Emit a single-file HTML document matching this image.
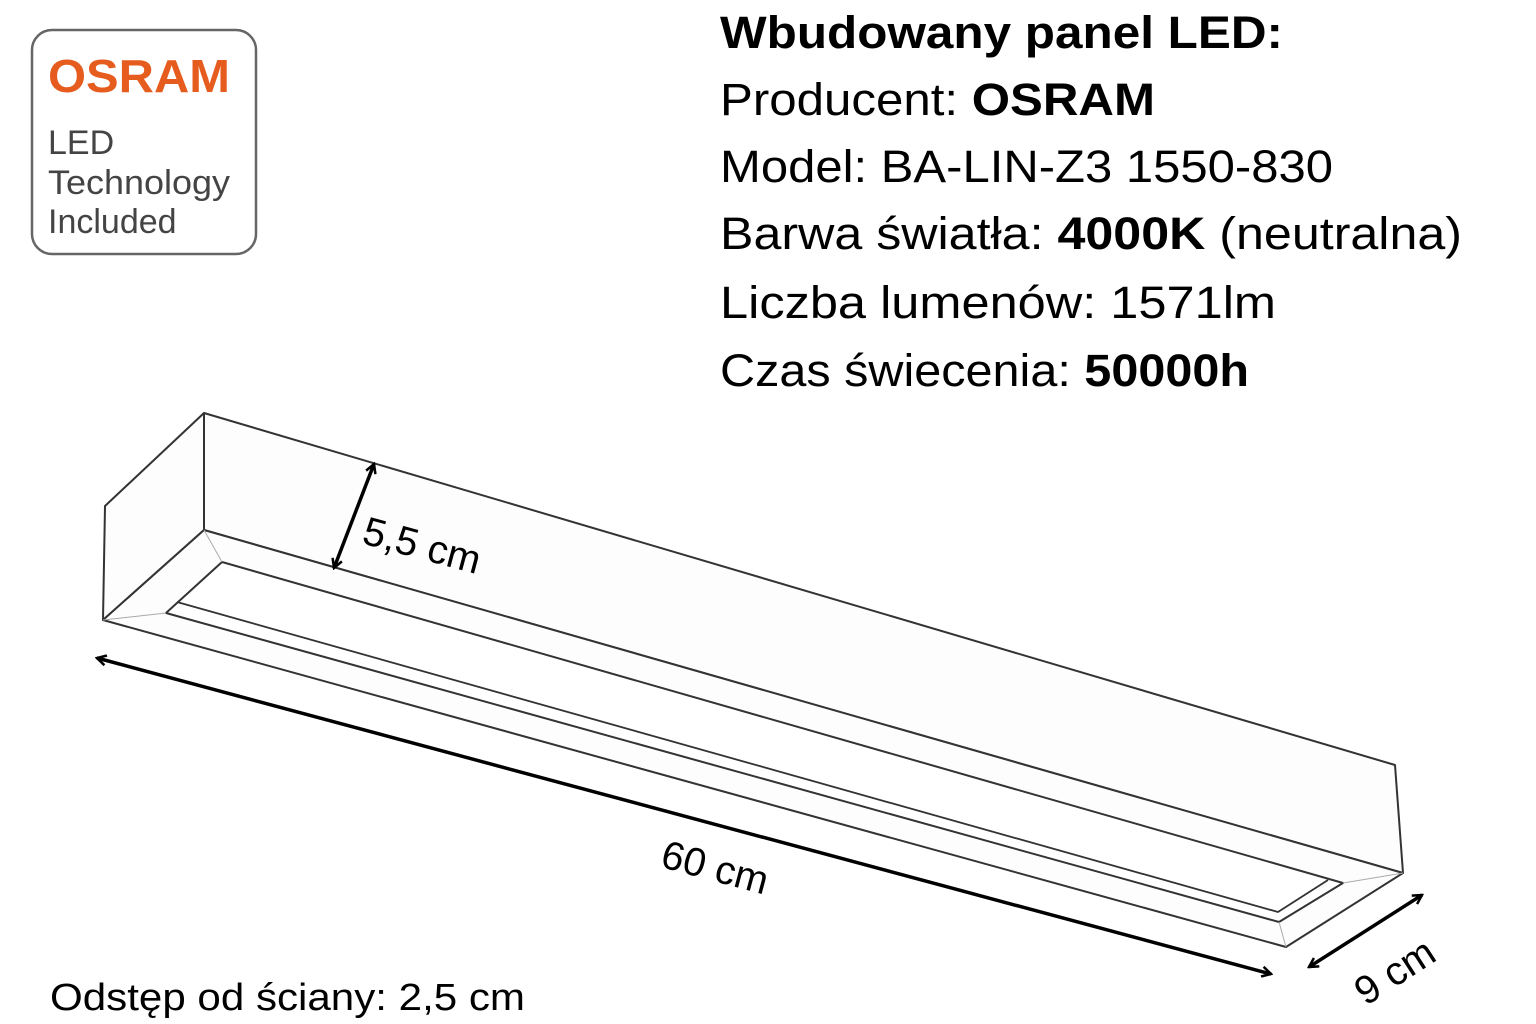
<!DOCTYPE html>
<html><head><meta charset="utf-8"><style>
html,body{margin:0;padding:0;background:#fff;}
svg{display:block}
text{font-family:"Liberation Sans",sans-serif;}
</style></head><body>
<svg width="1536" height="1024" viewBox="0 0 1536 1024" xmlns="http://www.w3.org/2000/svg">
<defs>
<marker id="ah" viewBox="0 0 12 12" refX="10" refY="6" markerWidth="12" markerHeight="12" markerUnits="userSpaceOnUse" orient="auto-start-reverse">
<path d="M1,1 L10,6 L1,11" fill="none" stroke="#000" stroke-width="2.5"/>
</marker>
</defs>
<rect x="32" y="30" width="224" height="224" rx="20" fill="#fff" stroke="#666" stroke-width="2.5"/>
<text x="48" y="92" font-size="46" font-weight="bold" fill="#e65c1e" textLength="182" lengthAdjust="spacingAndGlyphs">OSRAM</text>
<text x="48" y="154" font-size="34" fill="#444">LED</text>
<text x="48" y="194" font-size="34" fill="#444" textLength="182" lengthAdjust="spacingAndGlyphs">Technology</text>
<text x="48" y="233" font-size="34" fill="#444">Included</text>
<g font-size="45" fill="#000">
<text x="720" y="48" font-weight="bold" textLength="563" lengthAdjust="spacingAndGlyphs">Wbudowany panel LED:</text>
<text x="720" y="115" textLength="435" lengthAdjust="spacingAndGlyphs">Producent: <tspan font-weight="bold">OSRAM</tspan></text>
<text x="720" y="182" textLength="613" lengthAdjust="spacingAndGlyphs">Model: BA-LIN-Z3 1550-830</text>
<text x="720" y="249" textLength="742" lengthAdjust="spacingAndGlyphs">Barwa światła: <tspan font-weight="bold">4000K</tspan> (neutralna)</text>
<text x="720" y="318" textLength="556" lengthAdjust="spacingAndGlyphs">Liczba lumenów: 1571lm</text>
<text x="720" y="386" textLength="529" lengthAdjust="spacingAndGlyphs">Czas świecenia: <tspan font-weight="bold">50000h</tspan></text>
</g>
<g stroke="#333" stroke-width="2" fill="#fdfdfd" stroke-linejoin="round">
<polygon points="204,413 1395,765 1403,873 204,530"/>
<polygon points="105,506 204,413 204,530 103,620"/>
<polygon points="103,620 204,530 1403,873 1286,947"/>
<polygon points="222,562 1343,883 1279,922 166,613" fill="#fff"/>
<polyline points="177,602 1278,912 1328,880" fill="none" stroke-width="1.8"/>
<line x1="204" y1="530" x2="222" y2="562" stroke="#aaa" stroke-width="1"/>
<line x1="103" y1="620" x2="166" y2="613" stroke="#aaa" stroke-width="1"/>
<line x1="1403" y1="873" x2="1343" y2="883" stroke="#aaa" stroke-width="1"/>
<line x1="1286" y1="947" x2="1279" y2="922" stroke="#aaa" stroke-width="1"/>
</g>
<g stroke="#000" stroke-width="3.5" fill="none">
<line x1="97" y1="658" x2="1271" y2="974" marker-start="url(#ah)" marker-end="url(#ah)"/>
<line x1="374" y1="464" x2="334" y2="568" marker-start="url(#ah)" marker-end="url(#ah)"/>
<line x1="1309" y1="967" x2="1422" y2="895" marker-start="url(#ah)" marker-end="url(#ah)"/>
</g>
<g font-size="40" fill="#000">
<text transform="translate(715,868) rotate(15)" text-anchor="middle" dy="13">60 cm</text>
<text transform="translate(422,546) rotate(15)" text-anchor="middle" dy="13">5,5 cm</text>
<text transform="translate(1395,972) rotate(-33)" text-anchor="middle" dy="13">9 cm</text>
</g>
<text x="50" y="1010" font-size="38" fill="#000" textLength="475" lengthAdjust="spacingAndGlyphs">Odstęp od ściany: 2,5 cm</text>
</svg>
</body></html>
